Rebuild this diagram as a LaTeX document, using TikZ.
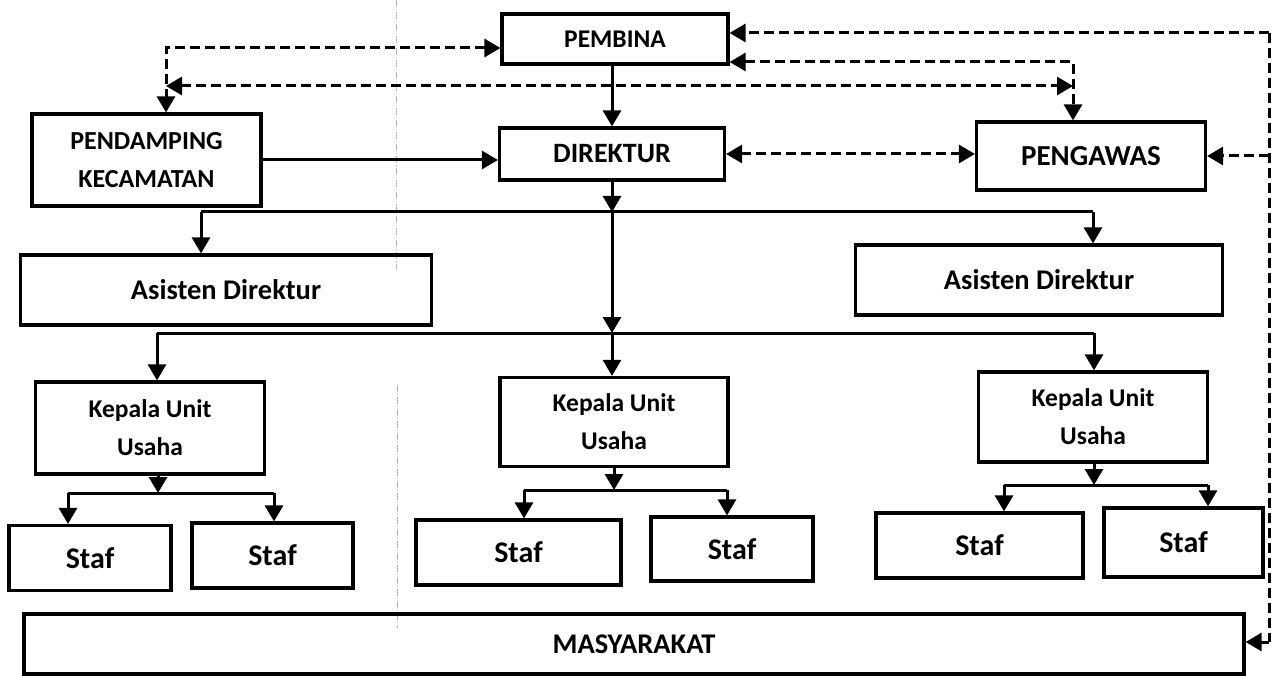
\documentclass[tikz,border=0pt]{standalone}
\usepackage{fontspec}
\setmainfont{Carlito}
\usetikzlibrary{arrows.meta,calc}
\newcommand\fsz[1]{\bfseries\fontsize{#1}{38}\selectfont}
\begin{document}
\begin{tikzpicture}[x=1pt,y=-1pt,
  box/.style={draw, line width=3.2pt, inner sep=0pt, align=center},
  link/.style={line width=3pt, -{Triangle[length=16pt,width=18pt]}},
  plain/.style={line width=3pt},
  dlink/.style={line width=3pt, dash pattern=on 10pt off 5pt},
  tip/.style={-{Triangle[length=16pt,width=18pt]}},
  tips/.style={{Triangle[length=16pt,width=18pt]}-{Triangle[length=16pt,width=18pt]}},
  artifact/.style={gray!55, line width=0.7pt, dash pattern=on 7pt off 2pt on 1pt off 2pt}]
\useasboundingbox[fill=white] (0,0) rectangle (1282,676);

% faint scan guideline
\draw[artifact] (396,0) -- (396,270);
\draw[artifact] (397,385) -- (397,628);

% boxes
\node[box,minimum width=226pt,minimum height=50pt,font=\fsz{25.5}] (pembina) at (615,39) {PEMBINA};
\node[box,minimum width=225pt,minimum height=52pt,font=\fsz{28}] (direktur) at (612,154) {DIREKTUR};
\node[box,minimum width=229pt,minimum height=92pt,font=\fsz{26}] (pendamping) at (146.5,160) {PENDAMPING\\KECAMATAN};
\node[box,minimum width=229pt,minimum height=68pt,font=\fsz{29}] (pengawas) at (1091,156) {PENGAWAS};
\node[box,minimum width=411pt,minimum height=70pt,font=\fsz{28.5}] (asL) at (226,290) {Asisten Direktur};
\node[box,minimum width=367pt,minimum height=70pt,font=\fsz{28.5}] (asR) at (1039,280) {Asisten Direktur};
\node[box,minimum width=229pt,minimum height=92pt,font=\fsz{25.5}] (kL) at (150,428) {Kepala Unit\\Usaha};
\node[box,minimum width=228pt,minimum height=89pt,font=\fsz{25.5}] (kM) at (614,422) {Kepala Unit\\Usaha};
\node[box,minimum width=229pt,minimum height=90pt,font=\fsz{25.5}] (kR) at (1093,417) {Kepala Unit\\Usaha};
\node[box,minimum width=162pt,minimum height=65pt,font=\fsz{30}] (sL1) at (90,558) {Staf};
\node[box,minimum width=161pt,minimum height=65pt,font=\fsz{30}] (sL2) at (272.5,555.5) {Staf};
\node[box,minimum width=205pt,minimum height=65pt,font=\fsz{30}] (sM1) at (518.5,552.5) {Staf};
\node[box,minimum width=162pt,minimum height=64pt,font=\fsz{30}] (sM2) at (732,549) {Staf};
\node[box,minimum width=207pt,minimum height=65pt,font=\fsz{30}] (sR1) at (979.5,545.5) {Staf};
\node[box,minimum width=159pt,minimum height=69pt,font=\fsz{30}] (sR2) at (1183.5,542.5) {Staf};
\node[box,minimum width=1220pt,minimum height=60pt,font=\fsz{28.5}] (masy) at (634,644) {MASYARAKAT};

% helper coordinates
\coordinate (rtop) at (1269,33);
\coordinate (rbot) at (1269,642);
\coordinate (ltop) at (166,48);
\coordinate (lmid) at (166,86);
\coordinate (cmid) at (1073,86);
\coordinate (pc) at (1073,62);
\coordinate (b1) at (612,212);
\coordinate (b1L) at (201,212);
\coordinate (b1R) at (1093,212);
\coordinate (b2) at (612,333);
\coordinate (b2L) at (157,333);
\coordinate (b2R) at (1094,333);
\coordinate (cL) at (158,493);
\coordinate (cLa) at (68,493);
\coordinate (cLb) at (274,493);
\coordinate (cM) at (614,490);
\coordinate (cMa) at (524,490);
\coordinate (cMb) at (727,490);
\coordinate (cR) at (1094,485);
\coordinate (cRa) at (1004,485);
\coordinate (cRb) at (1208,485);

% dashed connectors
\draw[dlink,tips] (pembina.west |- ltop) -- (ltop) -- (ltop |- pendamping.north);
\draw[dlink,tips] (lmid) -- (cmid);
\draw[dlink,tips] (pembina.east |- pc) -- (pc) -- (pc |- pengawas.north);
\draw[dlink,tips] (direktur.east) -- (pengawas.west |- direktur.east);
\draw[dlink,tip] (rtop) -- (pembina.east |- rtop);
\draw[dlink] (rtop) -- (rbot);
\draw[dlink,tip] (rbot) -- (masy.east |- rbot);
\draw[dlink,tip] (rtop |- pengawas.east) -- (pengawas.east);

% solid connectors
\draw[link] (pendamping.east) -- (direktur.west |- pendamping.east);
\draw[link] (pembina.south -| direktur.north) -- (direktur.north);
\draw[link] (direktur.south) -- (b1);
\draw[plain] (b1L) -- (b1R);
\draw[link] (b1L) -- (b1L |- asL.north);
\draw[link] (b1R) -- (b1R |- asR.north);
\draw[link] (b1) -- (b2);
\draw[plain] (b2L) -- (b2R);
\draw[link] (b2L) -- (b2L |- kL.north);
\draw[link] (b2) -- (b2 |- kM.north);
\draw[link] (b2R) -- (b2R |- kR.north);

\draw[link] (kL.south -| cL) -- (cL);
\draw[plain] (cLa) -- (cLb);
\draw[link] (cLa) -- (cLa |- sL1.north);
\draw[link] (cLb) -- (cLb |- sL2.north);

\draw[link] (kM.south -| cM) -- (cM);
\draw[plain] (cMa) -- (cMb);
\draw[link] (cMa) -- (cMa |- sM1.north);
\draw[link] (cMb) -- (cMb |- sM2.north);

\draw[link] (kR.south -| cR) -- (cR);
\draw[plain] (cRa) -- (cRb);
\draw[link] (cRa) -- (cRa |- sR1.north);
\draw[link] (cRb) -- (cRb |- sR2.north);
\end{tikzpicture}
\end{document}
